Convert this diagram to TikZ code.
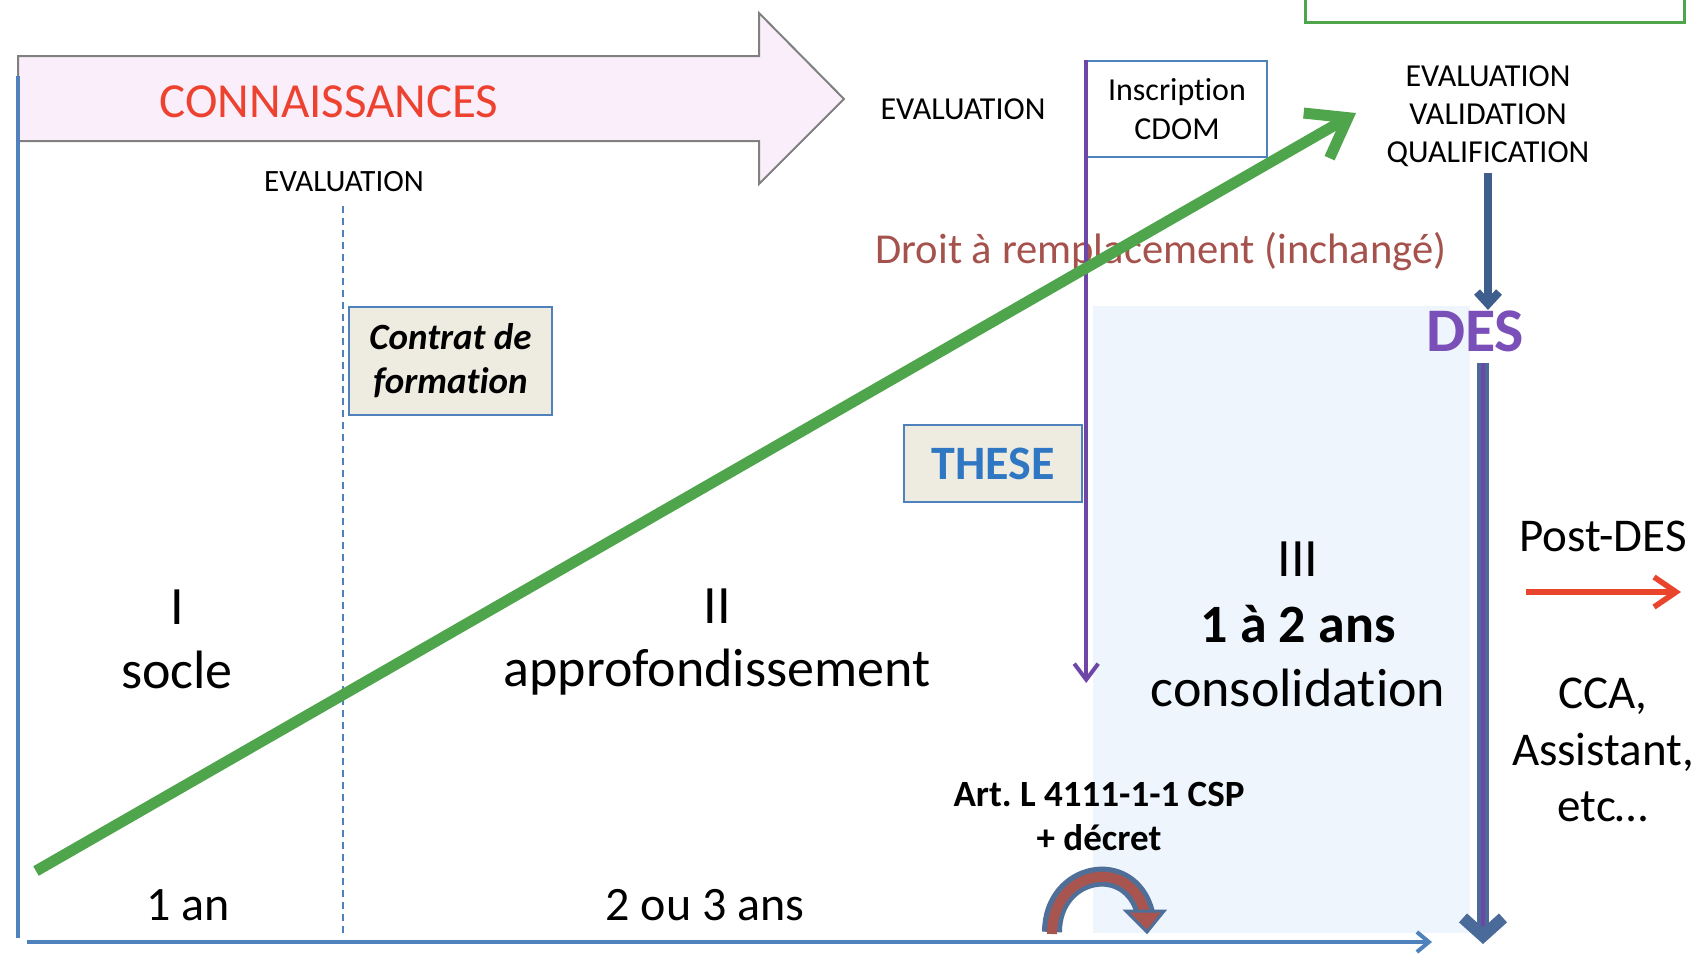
\documentclass[tikz,border=0pt]{standalone}
\usepackage{fontspec}
\setmainfont[Ligatures=NoCommon]{Carlito}
\usetikzlibrary{arrows.meta}
\definecolor{axisblue}{HTML}{4F81BD}
\definecolor{grn}{HTML}{4FA54C}
\definecolor{purp}{HTML}{6E47A6}
\definecolor{desp}{HTML}{7A4FB8}
\definecolor{conred}{HTML}{EE4231}
\definecolor{droitc}{HTML}{A5524C}
\definecolor{ltblue}{HTML}{EEF5FD}
\definecolor{boxfill}{HTML}{EEECE1}
\definecolor{theseblue}{HTML}{2F77C2}
\definecolor{darkblue}{HTML}{3E5F8E}
\definecolor{barblue}{HTML}{4A6A99}
\definecolor{arrfill}{HTML}{F9EEF9}
\definecolor{arrline}{HTML}{808080}
\definecolor{curvefill}{HTML}{A9554F}
\definecolor{curveline}{HTML}{4F6F99}
\definecolor{postred}{HTML}{E8452C}
\newcommand\fsz[2]{\fontsize{#1}{#2}\selectfont}
\frenchspacing
\begin{document}
\begin{tikzpicture}[x=0.5pt,y=-0.5pt,
  txt/.style={inner sep=0pt, anchor=base},
  infobox/.style={draw=axisblue, fill=boxfill, line width=0.8pt, inner sep=0pt, align=center}]
\useasboundingbox (0,0) rectangle (1701,959);
% background of phase III
\fill[ltblue] (1093,306) rectangle (1470,933);
% green box cut at the top
\draw[grn, line width=1.5pt] (1305,-20) rectangle (1684,22);
% big arrow
\draw[arrline, line width=1pt, fill=arrfill, line join=miter]
  (18,56) -- (759,56) -- (759,13) -- (844,99) -- (759,184) -- (759,141) -- (18,141) -- cycle;
\node[txt, font=\fsz{24.5}{29}, text=conred] (conn) at (329,117) {CONNAISSANCES};
% axes
\coordinate (ytop) at (18,76);
\coordinate (ybot) at (18,938);
\coordinate (xstart) at (27,942);
\coordinate (xend) at (1432,942);
\draw[axisblue, line width=2pt] (ytop) -- (ybot);
\draw[axisblue, line width=2pt, -{Straight Barb[length=6pt,width=10pt]}] (xstart) -- (xend);
% dashed separator
\coordinate (dtop) at (343,206);
\coordinate (dbot) at (343,935);
\draw[axisblue, line width=0.6pt, dash pattern=on 3.5pt off 2.5pt] (dtop) -- (dbot);
% texts
\node[txt, font=\fsz{15.5}{19}] (ev1) at (344,191) {EVALUATION};
\node[txt, font=\fsz{16}{19}] (ev2) at (963,119) {EVALUATION};
\node[draw=axisblue, line width=0.8pt, fill=white, minimum width=90pt, minimum height=48pt,
  inner sep=0pt, align=center, font=\fsz{16}{19.5}] (insc) at (1177,109) {Inscription\\CDOM};
\node[inner sep=0pt, align=center, font=\fsz{16}{19}] (evq) at (1488,116) {EVALUATION\\VALIDATION\\QUALIFICATION};
\node[txt, font=\fsz{21.3}{25}, text=droitc] (droit) at (1161,263) {Droit à remplacement (inchangé)};
\node[txt, font=\bfseries\fsz{31}{36}, text=desp] (des) at (1475,351) {DES};
\node[infobox, minimum width=89pt, minimum height=38.5pt, font=\bfseries\fsz{24}{28}, text=theseblue] (these) at (993,463.5) {THESE};
\node[infobox, minimum width=101.5pt, minimum height=54pt, font=\bfseries\itshape\fsz{18.5}{22}] (contrat) at (450.5,361) {Contrat de\\formation};
\node[txt, font=\fsz{27}{31}] (s1a) at (177,624) {I};
\node[txt, font=\fsz{27}{31}] (s1b) at (177,688) {socle};
\node[txt, font=\fsz{27}{31}] (s2a) at (717,623) {II};
\node[txt, font=\fsz{27}{31}] (s2b) at (717,686) {approfondissement};
\node[txt, font=\fsz{27}{31}] (s3a) at (1298,576) {III};
\node[txt, font=\bfseries\fsz{27}{31}] (s3b) at (1298,642) {1 à 2 ans};
\node[txt, font=\fsz{27}{31}] (s3c) at (1298,706) {consolidation};
\node[txt, font=\fsz{24}{28}] (d1) at (188,920) {1 an};
\node[txt, font=\fsz{24}{28}] (d2) at (705,920) {2 ou 3 ans};
\node[txt, font=\bfseries\fsz{18.5}{22}] (art) at (1099,806) {Art. L 4111-1-1 CSP};
\node[txt, font=\bfseries\fsz{18.5}{22}] (dec) at (1099,850) {+ décret};
\node[txt, font=\fsz{23.5}{28}] (post) at (1603,551) {Post-DES};
\node[txt, font=\fsz{23.5}{28}] (cca) at (1603,708) {CCA,};
\node[txt, font=\fsz{23.5}{28}] (asst) at (1603,765) {Assistant,};
\node[txt, font=\fsz{23.5}{28}] (etc) at (1603,821) {etc…};
% purple line from inscription
\coordinate (pend) at (1085,683);
\draw[purp, line width=2pt, -{Straight Barb[length=8pt,width=12pt]}] (insc.north west) -- (insc.north west |- pend);
% arrow to DES
\draw[darkblue, line width=4pt, -{Straight Barb[length=6pt,width=11pt]}] ([yshift=-3pt]evq.south) -- (evq.south |- des.north);
% vertical bar
\coordinate (barTop) at (1483,363);
\coordinate (barBot) at (1483,944);
\coordinate (barMid) at (1483,926);
\draw[barblue, line width=6pt, -{Straight Barb[length=9pt,width=20pt]}] (barTop) -- (barBot);
\draw[purp, line width=2pt] (barTop) -- (barMid);
% post-DES arrow
\coordinate (pa) at (1526,592);
\coordinate (pb) at (1681,592);
\draw[postred, line width=2.8pt, -{Straight Barb[length=11pt,width=15pt]}] (pa) -- (pb);
% curved arrow
\coordinate (c1) at (1052,932);
\coordinate (c2) at (1145,913);
\draw[curveline, line width=10pt] (c1) .. controls (1052,870) and (1130,855) .. (c2);
\draw[curvefill, line width=5pt] ([yshift=-1pt]c1) .. controls (1052,870) and (1130,855) .. (c2);
\filldraw[draw=curveline, fill=curvefill, line width=1.5pt, line join=miter] (1126,911) -- (1164,911) -- (1147,932) -- cycle;
% green arrow
\coordinate (g1) at (36,871);
\coordinate (g2) at (1356,113);
\draw[grn, line width=5.5pt, -{Straight Barb[length=18pt,width=26pt]}] (g1) -- (g2);
\end{tikzpicture}
\end{document}
